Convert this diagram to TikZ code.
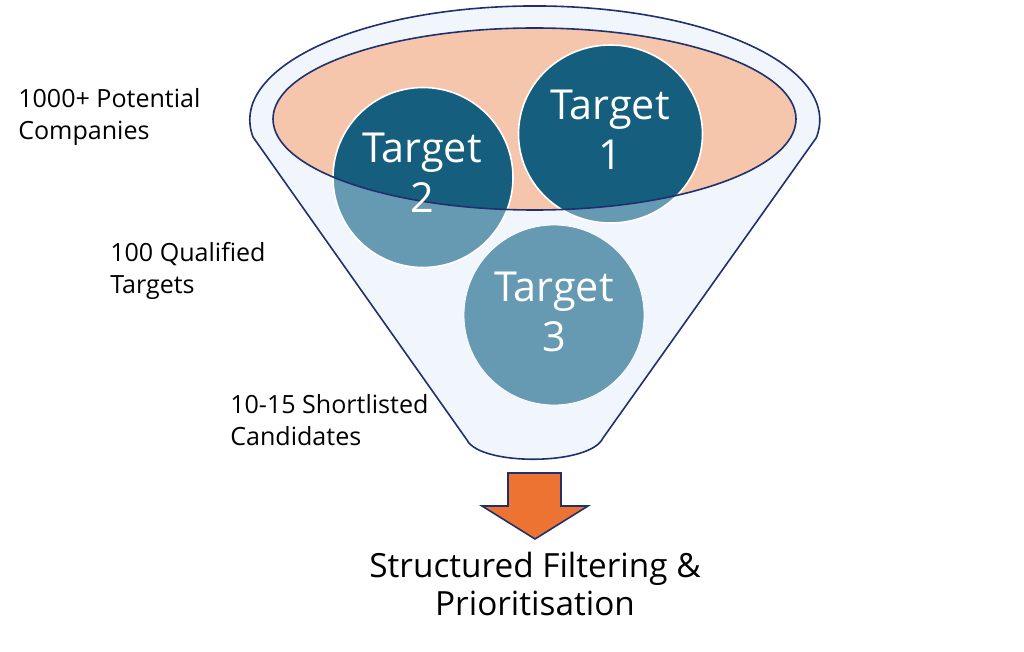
\documentclass[tikz,border=0pt]{standalone}
\usepackage{fontspec}
\setmainfont{Open Sans}
\usepackage{tikz}

\definecolor{funnelfill}{RGB}{241,246,253}
\definecolor{funnelline}{RGB}{32,48,110}
\definecolor{rimfill}{RGB}{246,198,172}
\definecolor{targetdark}{RGB}{22,94,126}
\definecolor{targetlight}{RGB}{102,153,178}
\definecolor{arrowfill}{RGB}{236,115,50}

\begin{document}
\begin{tikzpicture}[x=0.75pt,y=0.75pt,yscale=-1,xscale=1,
  outline/.style={color=funnelline,line width=1.2},
  targettext/.style={align=center,text=white,inner sep=0pt,font=\fontsize{31}{37.5}\selectfont},
  stagelabel/.style={anchor=west,align=left,inner sep=0pt,font=\fontsize{18.8}{24}\selectfont}]
\useasboundingbox (0,0) rectangle (1024,652);

%Shape: Funnel
\draw [outline,fill=funnelfill] (253,137) arc [start angle=171.4,end angle=369,x radius=285,y radius=114] -- (603,438) .. controls (590,466) and (480,466) .. (467,440) -- cycle ;
%Shape: Ellipse (top of funnel)
\fill [rimfill] (534.5,119) ellipse [x radius=261.5,y radius=91] ;

%Shape: Circles (below the rim)
\fill [targetlight] (610.5,134) ellipse [x radius=92,y radius=89] ;
\fill [targetlight] (423,177.5) circle [radius=90] ;
\fill [targetlight] (554,315) circle [radius=90] ;
%Shape: Circles (inside the rim)
\begin{scope}
\clip (534.5,119) ellipse [x radius=261.5,y radius=91] ;
\fill [targetdark] (610.5,134) ellipse [x radius=92,y radius=89] ;
\fill [targetdark] (423,177.5) circle [radius=90] ;
\end{scope}
\draw [white,line width=1.2] (610.5,134) ellipse [x radius=92,y radius=89] ;
\draw [white,line width=1.2] (423,177.5) circle [radius=90] ;
\draw [white,line width=0.6] (554,315) circle [radius=90] ;
%Shape: Ellipse outline
\draw [outline] (534.5,119) ellipse [x radius=261.5,y radius=91] ;

%Shape: Down arrow
\draw [outline,fill=arrowfill] (508,473) -- (561,473) -- (561,506) -- (588,506) -- (535,539) -- (482,506) -- (508,506) -- cycle ;

% Text Node
\node [targettext] (target1) at (610,130) {Target\\1};
% Text Node
\node [targettext] (target2) at (422,173) {Target\\2};
% Text Node
\node [targettext] (target3) at (554,312) {Target\\3};
% Text Node
\node [stagelabel] (companies) at (18,117) {1000+ Potential\\Companies};
% Text Node
\node [stagelabel] (qualified) at (110,271) {100 Qualified\\Targets};
% Text Node
\node [stagelabel] (shortlist) at (230,420) {10-15 Shortlisted\\Candidates};
% Text Node
\node [align=center,inner sep=0pt,font=\fontsize{25}{28.5}\selectfont] (result) at (535,584) {Structured Filtering \&\\Prioritisation};

\end{tikzpicture}
\end{document}
